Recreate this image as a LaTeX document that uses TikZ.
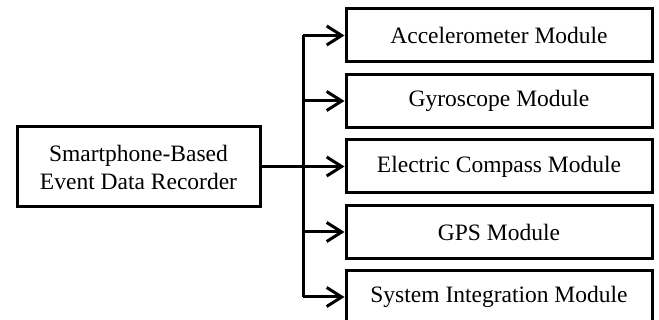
\documentclass[tikz,border=0pt]{standalone}
\usepackage{fontspec}
\setmainfont{Liberation Serif}
\usetikzlibrary{arrows.meta}
\begin{document}
\begin{tikzpicture}[x=1pt,y=-1pt,
  box/.style={draw,line width=3pt,minimum width=306pt,minimum height=53pt,inner sep=0pt,align=center,font=\fontsize{23.5}{28}\selectfont},
  conn/.style={line width=3pt},
  arr/.style={conn,-{Straight Barb[length=15pt,width=19pt]}}]
\useasboundingbox (0,0) rectangle (659,320);
\node[box,minimum width=243pt,minimum height=80pt] (L) at (138.5,167) {Smartphone-Based\\Event Data Recorder};
\node[box] (m1) at (499,35.5) {Accelerometer Module};
\node[box] (m2) at (499,101) {Gyroscope Module};
\node[box] (m3) at (499,166.5) {Electric Compass Module};
\node[box] (m4) at (499,232) {GPS Module};
\node[box] (m5) at (499,297) {System Integration Module};
\coordinate (j) at (303,167);
\draw[conn] (L.east) -- (j);
\draw[conn] (j |- m1) -- (j |- m5);
\foreach \m in {m1,m2,m3,m4,m5}
  \draw[arr] (j |- \m) -- (\m.west);
\end{tikzpicture}
\end{document}
